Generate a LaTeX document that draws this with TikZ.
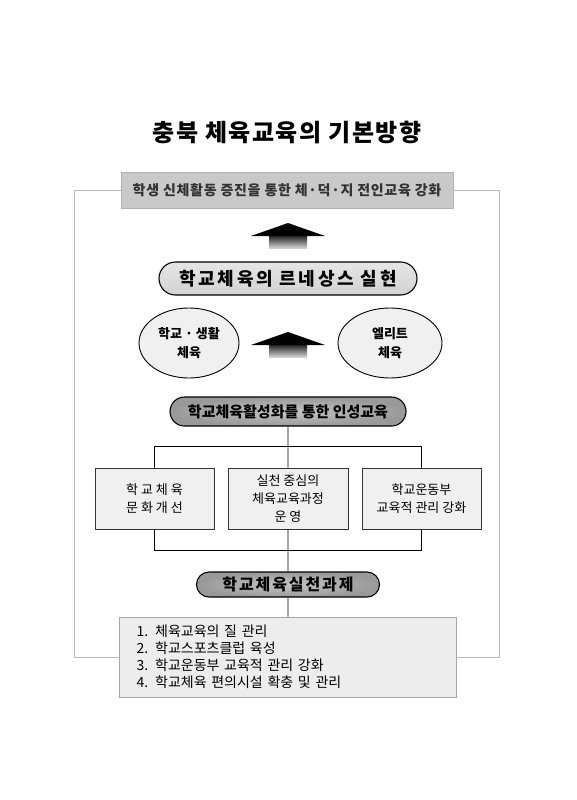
\documentclass[tikz,border=0pt]{standalone}
\usepackage{fontspec}
\setmainfont{Noto Sans CJK KR}
\usetikzlibrary{shapes.geometric,shapes.misc}

\begin{document}
\begin{tikzpicture}[x=1pt, y=-1pt]
\tikzstyle{every node}=[inner sep=0pt, align=center];
\tikzstyle{goal}=[draw=gray!60, fill=gray!42, text=black!80, minimum width=332pt, minimum height=36pt, font=\bfseries\fontsize{14}{16}\selectfont\addfontfeature{LetterSpace=5}];
\tikzstyle{pill}=[rounded rectangle, draw, line width=1.1pt];
\tikzstyle{lightpill}=[pill, top color=gray!20, bottom color=gray!35];
\tikzstyle{darkpill}=[pill, inner color=gray!45, outer color=gray!80];
\tikzstyle{sport}=[ellipse, draw, line width=0.9pt, fill=gray!12, minimum height=70pt, font=\bfseries\fontsize{13}{19}\selectfont];
\tikzstyle{task}=[draw=black!80, line width=0.9pt, fill=gray!12, minimum width=119pt, minimum height=61pt, font=\fontsize{13}{18}\selectfont];
\tikzstyle{link}=[draw, line width=0.8pt];
\tikzstyle{back}=[draw=gray!55, line width=0.8pt];
\fill[white] (0,0) rectangle (577,800);
\useasboundingbox (0,0) rectangle (577,800);
\path (287,132) node (title) {\bfseries\fontsize{24}{28}\selectfont\addfontfeature{LetterSpace=6}충북 체육교육의 기본방향};
\path (287,190) node[goal] (goal) {학생 신체활동 증진을 통한 체·덕·지 전인교육 강화};
\path (288,278.5) node[lightpill, minimum width=258pt, minimum height=33pt, font=\bfseries\fontsize{18}{20}\selectfont\addfontfeature{LetterSpace=15}] (renaissance) {학교체육의 르네상스 실현};
\path (189,343) node[sport, minimum width=100pt] (school) {학교 · 생활\\체육};
\path (390,343) node[sport, minimum width=104pt] (elite) {엘리트\\체육};
\path (288,411.5) node[darkpill, minimum width=236pt, minimum height=29pt, font=\bfseries\fontsize{15}{17}\selectfont] (character) {학교체육활성화를 통한 인성교육};
\path (154.5,498.5) node[task] (culture) {학 교 체 육\\문 화 개 선};
\path (288,498.5) node[task, minimum width=120pt] (curriculum) {실천 중심의\\체육교육과정\\운 영};
\path (421.5,498.5) node[task] (team) {학교운동부\\교육적 관리 강화};
\path (288,584.5) node[darkpill, minimum width=183pt, minimum height=25pt, font=\bfseries\fontsize{16}{18}\selectfont\addfontfeature{LetterSpace=12}] (practice) {학교체육실천과제};
\path (288,657) node[draw=gray!70, line width=0.8pt, fill=gray!14, text width=303pt, inner xsep=17pt, minimum height=80pt, align=left, font=\fontsize{14}{17}\selectfont] (tasks) {1. 체육교육의 질 관리\\2. 학교스포츠클럽 육성\\3. 학교운동부 교육적 관리 강화\\4. 학교체육 편의시설 확충 및 관리};
% block arrows
\fill (288,223) -- ++(37,13) -- ++(-74,0) -- cycle;
\shade[top color=black!85, bottom color=gray!35] (269,236) rectangle (307,248);
\fill (288,332) -- ++(37,13) -- ++(-74,0) -- cycle;
\shade[top color=black!85, bottom color=gray!35] (269,345) rectangle (307,357);
\path[link]
(character) -- (curriculum)
(culture.north) -- ++(0,-21) -| (team.north)
(culture.south) -- ++(0,21) -| (team.south)
(curriculum) -- (practice) -- (tasks)
;
\path[back]
(tasks.west) -- ++(-45,0) |- (goal.west)
(tasks.east) -- ++(42,0) |- (goal.east)
;
\end{tikzpicture}
\end{document}
